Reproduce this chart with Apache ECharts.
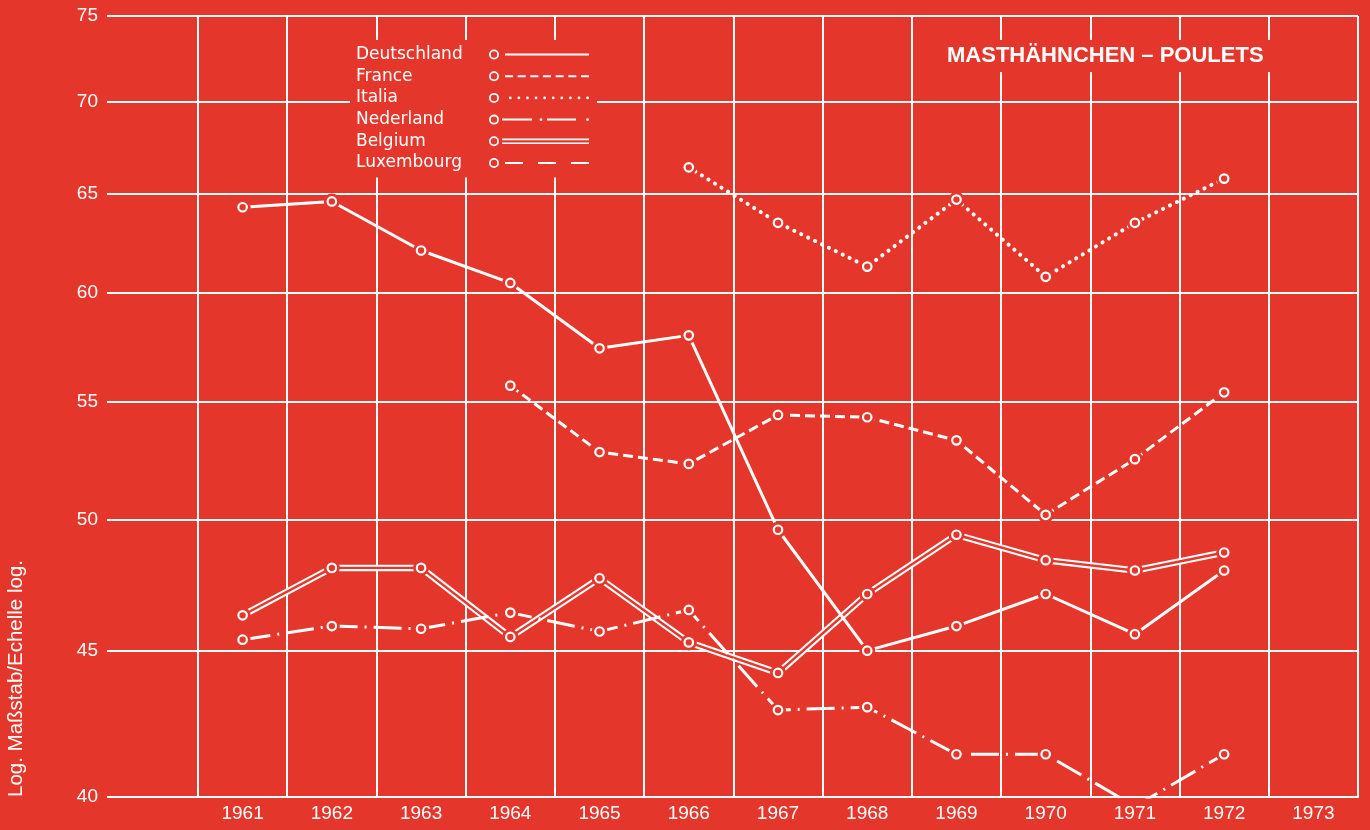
<!DOCTYPE html>
<html>
<head>
<meta charset="utf-8">
<title>Masthähnchen – Poulets</title>
<script src="https://cdn.jsdelivr.net/npm/echarts@6/dist/echarts.min.js"></script>
<style>
  html, body { margin: 0; padding: 0; background: #e4362b; }
  #chart { width: 1370px; height: 830px; }
</style>
</head>
<body>
<div id="chart"></div>
<script>
const RED = '#e4362b';
const WHITE = '#ffffff';
const FONT = '"Liberation Sans", Arial, sans-serif';

const years = ['1961', '1962', '1963', '1964', '1965', '1966', '1967', '1968', '1969', '1970', '1971', '1972', '1973'];
const yTicks = [40, 45, 50, 55, 60, 65, 70, 75];

const deutschland = [64.3, 64.6, 62.1, 60.5, 57.4, 58.0, 49.6, 45.0, 45.9, 47.1, 45.6, 48.0, null];
const france = [null, null, null, 55.7, 52.8, 52.3, 54.4, 54.3, 53.3, 50.2, 52.5, 55.4, null];
const italia = [null, null, null, null, null, 66.4, 63.5, 61.3, 64.7, 60.8, 63.5, 65.8, null];
const nederland = [45.4, 45.9, 45.8, 46.4, 45.7, 46.5, 42.9, 43.0, 41.4, 41.4, 39.7, 41.4, null];
const belgium = [46.3, 48.1, 48.1, 45.5, 47.7, 45.3, 44.2, 47.1, 49.4, 48.4, 48.0, 48.7, null];
const luxembourg = [null, null, null, null, null, null, null, null, null, null, null, null, null];

// legend icons: little ring on the left, then the line pattern (100 x 10 box)
const RING = 'M0,5a5,5 0 1,0 10,0a5,5 0 1,0 -10,0zM1.8,5a3.2,3.2 0 1,1 6.4,0a3.2,3.2 0 1,1 -6.4,0z';

function rect(x, y, w, h) {
  return 'M' + x + ',' + y + 'h' + w + 'v' + h + 'h' + (-w) + 'z';
}

function dot(cx, r) {
  return 'M' + (cx - r) + ',5a' + r + ',' + r + ' 0 1,0 ' + (2 * r) + ',0a' + r + ',' + r + ' 0 1,0 ' + (-2 * r) + ',0z';
}

function iconSolid() {
  return 'path://' + RING + rect(16, 4, 84, 2);
}

function iconDashed() {
  let p = RING;
  for (let i = 0; i < 7; i++) p += rect(16 + i * 12.67, 4, 8, 2);
  return 'path://' + p;
}

function iconDotted() {
  let p = RING;
  for (let i = 0; i < 10; i++) p += dot(21.3 + i * 8.6, 1.4);
  return 'path://' + p;
}

function iconDashDot() {
  return 'path://' + RING + rect(13, 4, 30, 2) + dot(52, 1.4) + rect(58, 4, 29, 2) + dot(98.6, 1.4);
}

function iconDouble() {
  return 'path://' + RING + rect(13, 2.3, 87, 1.6) + rect(13, 6.1, 87, 1.6);
}

function iconLongDash() {
  return 'path://' + RING + rect(16, 4, 18, 2) + rect(49, 4, 18, 2) + rect(82, 4, 18, 2);
}

function lineSeries(name, data, lineStyle) {
  return {
    type: 'line',
    name: name,
    data: data,
    symbol: 'none',
    z: 2,
    silent: true,
    itemStyle: { color: lineStyle.color || WHITE },
    lineStyle: Object.assign({ color: WHITE }, lineStyle)
  };
}

// red disc under each ring so lines stop short of the markers
function haloSeries(name, data) {
  return {
    type: 'scatter',
    name: name,
    data: data,
    symbol: 'circle',
    symbolSize: 16,
    z: 3,
    silent: true,
    itemStyle: { color: RED, opacity: 1 }
  };
}

function ringSeries(name, data) {
  return {
    type: 'scatter',
    name: name,
    data: data,
    symbol: 'circle',
    symbolSize: 8.5,
    z: 4,
    silent: true,
    itemStyle: { color: RED, borderColor: WHITE, borderWidth: 2.2, opacity: 1 }
  };
}

const countries = [
  { name: 'Deutschland', data: deutschland, icon: iconSolid(), style: { width: 3 } },
  { name: 'France', data: france, icon: iconDashed(), style: { width: 3, type: [10, 5] } },
  { name: 'Italia', data: italia, icon: iconDotted(), style: { width: 4, type: [0.1, 7.6], cap: 'round' } },
  { name: 'Nederland', data: nederland, icon: iconDashDot(), style: { width: 3, type: [28, 7, 2, 7] } },
  { name: 'Belgium', data: belgium, icon: iconDouble(), style: { width: 6.5 } },
  { name: 'Luxembourg', data: luxembourg, icon: iconLongDash(), style: { width: 3, type: [18, 12] } }
];

function buildSeries() {
  const series = [];
  // Belgium first so the other lines sit on top of its double band
  series.push(lineSeries('Belgium', belgium, { width: 6.5 }));
  series.push(lineSeries('Belgium', belgium, { width: 2.4, color: RED }));
  countries.forEach(function (c) {
    if (c.name !== 'Belgium') series.push(lineSeries(c.name, c.data, c.style));
  });
  countries.forEach(function (c) {
    series.push(haloSeries(c.name, c.data));
    series.push(ringSeries(c.name, c.data));
  });
  return series;
}

const chart = echarts.init(document.getElementById('chart'), null, { renderer: 'canvas' });

const option = {
  animation: false,
  backgroundColor: RED,
  title: {
    text: 'MASTHÄHNCHEN – POULETS',
    left: 940,
    top: 40,
    padding: [5, 7],
    backgroundColor: RED,
    textStyle: {
      color: WHITE,
      fontSize: 22,
      fontWeight: 'bold',
      fontFamily: FONT
    }
  },
  legend: {
    orient: 'vertical',
    left: 350,
    top: 40,
    padding: [6, 8, 6, 6],
    backgroundColor: RED,
    align: 'right',
    itemWidth: 100,
    itemHeight: 10,
    itemGap: 4.7,
    selectedMode: false,
    itemStyle: { color: WHITE, borderWidth: 0 },
    formatter: '{a|{name}}',
    textStyle: {
      color: WHITE,
      rich: {
        a: {
          width: 128,
          align: 'left',
          color: WHITE,
          fontSize: 17,
          fontFamily: '"DejaVu Sans", sans-serif'
        }
      }
    },
    data: countries.map(function (c) {
      return { name: c.name, icon: c.icon };
    })
  },
  grid: {
    left: 198,
    right: 12,
    top: 16,
    bottom: 33,
    containLabel: false,
    outerBoundsMode: 'none'
  },
  xAxis: {
    type: 'category',
    data: years,
    boundaryGap: true,
    axisLine: { lineStyle: { color: WHITE, width: 2 } },
    axisTick: { show: false },
    axisLabel: {
      interval: 0,
      color: WHITE,
      fontSize: 19,
      fontFamily: FONT,
      margin: 7
    },
    splitLine: {
      show: true,
      interval: 0,
      lineStyle: { color: WHITE, width: 2 }
    }
  },
  yAxis: {
    type: 'log',
    logBase: 10,
    min: 40,
    max: 75,
    axisLine: { show: true, lineStyle: { color: WHITE, width: 2 } },
    axisTick: {
      show: true,
      customValues: yTicks,
      length: 91,
      lineStyle: { color: WHITE, width: 2 }
    },
    axisLabel: {
      customValues: yTicks,
      color: WHITE,
      fontSize: 19,
      fontFamily: FONT,
      margin: 100
    },
    splitLine: {
      show: true,
      lineStyle: { color: WHITE, width: 2 }
    }
  },
  graphic: [{
    type: 'text',
    x: 16,
    y: 797,
    rotation: Math.PI / 2,
    silent: true,
    style: {
      text: 'Log. Maßstab/Echelle log.',
      fill: WHITE,
      fontSize: 20.5,
      fontFamily: FONT,
      align: 'left',
      verticalAlign: 'middle'
    }
  }],
  series: buildSeries()
};

chart.setOption(option);
</script>
</body>
</html>
